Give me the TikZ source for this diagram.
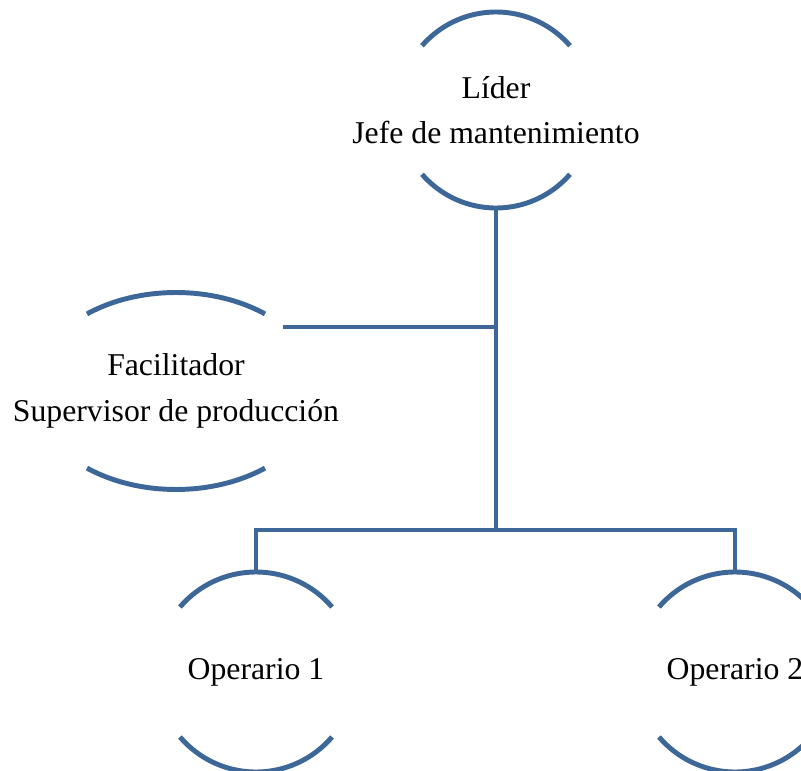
\documentclass[tikz,border=0pt]{standalone}
\usepackage{fontspec}
\setmainfont{Liberation Serif}
\usepackage{amsmath}
\usepackage{color}
\definecolor{arcblue}{RGB}{62,103,153}

\begin{document}
\begin{tikzpicture}[x=.75pt,y=.75pt,line width=3.7pt,draw=arcblue]
 \clip (0,0) rectangle (801,-771);
 \begin{scope}[every node/.style={rectangle, inner sep=0pt, minimum height=150pt, align=center,
     font=\fontsize{23.8pt}{34pt}\selectfont}]
   \node (lider) [minimum height=147pt] at (496,-110) {Líder\\Jefe de mantenimiento};
   \node (facil) [minimum height=147.75pt] at (176,-391) {Facilitador\\Supervisor de producción};
   \node (op1) at (256,-672) {Operario 1};
   \node (op2) at (735,-672) {Operario 2};
 \end{scope}
 \coordinate (j1) at (496,-327);
 \coordinate (j2) at (496,-530);
 \coordinate (fe) at (283,-327);
 \draw[arcblue] ([shift={(41:98)}]lider.center) arc[start angle=41, end angle=139, radius=98];
 \draw[arcblue] ([shift={(-41:98)}]lider.center) arc[start angle=-41, end angle=-139, radius=98];
 \draw[arcblue] ([shift={(51.5:143 and 98.5)}]facil.center) arc[start angle=51.5, end angle=128.5, x radius=143, y radius=98.5];
 \draw[arcblue] ([shift={(-51.5:143 and 98.5)}]facil.center) arc[start angle=-51.5, end angle=-128.5, x radius=143, y radius=98.5];
 \draw[arcblue] ([shift={(40.5:100)}]op1.center) arc[start angle=40.5, end angle=139.5, radius=100];
 \draw[arcblue] ([shift={(-40.5:100)}]op1.center) arc[start angle=-40.5, end angle=-139.5, radius=100];
 \draw[arcblue] ([shift={(40.5:100)}]op2.center) arc[start angle=40.5, end angle=139.5, radius=100];
 \draw[arcblue] ([shift={(-40.5:100)}]op2.center) arc[start angle=-40.5, end angle=-139.5, radius=100];
 \draw[arcblue] (lider.south) -- (j1) -- (j2);
 \draw[arcblue] (fe) -- (j1);
 \draw[arcblue] (op1.north) |- (j2) -| (op2.north);
\end{tikzpicture}
\end{document}
